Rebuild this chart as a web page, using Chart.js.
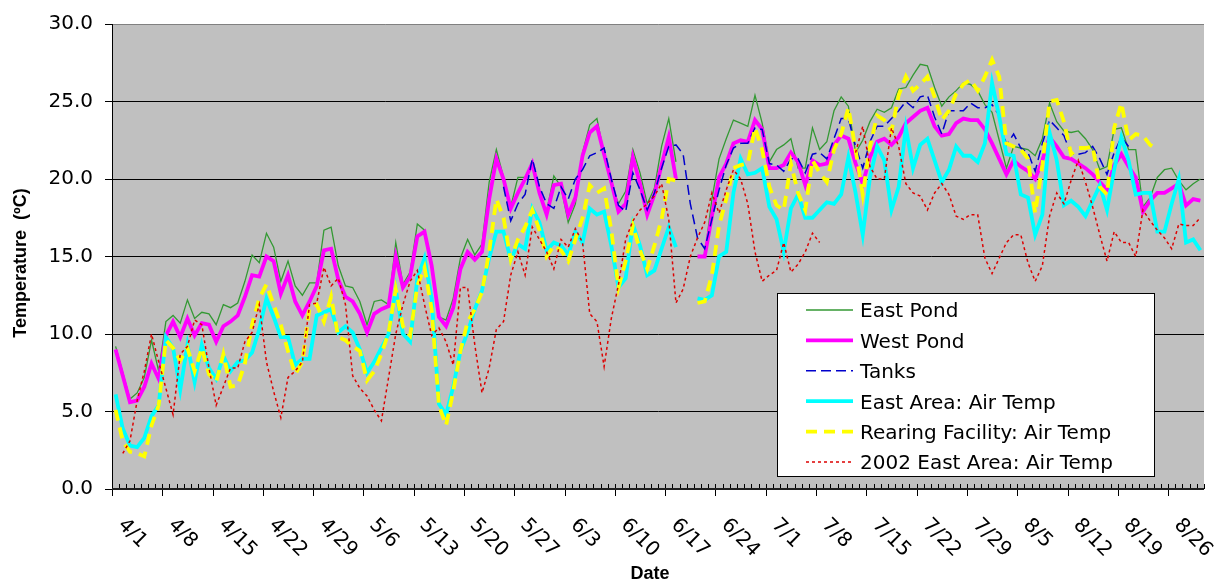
<!DOCTYPE html>
<html>
<head>
<meta charset="utf-8">
<script src="https://cdn.jsdelivr.net/npm/chart.js@4/dist/chart.umd.min.js"></script>
<style>
  html, body { margin: 0; padding: 0; background: #fff; }
  canvas { display: block; }
</style>
</head>
<body>
<canvas id="chart" width="1228" height="585"></canvas>
<script>
// daily categories 4/1 .. 8/30
const days = [];
for (let i = 0; i < 152; i++) {
  const dt = new Date(2003, 3, 1 + i);
  days.push((dt.getMonth() + 1) + '/' + dt.getDate());
}
const yTicks = [0, 5, 10, 15, 20, 25, 30];

const eastPond = [
  9.2, 7.5, 5.8, 6.2, 7.2, 9.6, 7.6,
  10.8, 11.2, 10.7, 12.2, 11.0, 11.4, 11.3,
  10.6, 11.9, 11.7, 12.0, 13.4, 15.1, 14.6,
  16.5, 15.6, 13.4, 14.7, 13.1, 12.5, 13.3,
  13.3, 16.7, 16.9, 14.4, 13.1, 13.0, 12.1,
  10.6, 12.1, 12.2, 11.9, 15.9, 13.2, 14.0,
  17.1, 16.7, 14.6, 11.1, 10.9, 12.3, 14.9,
  16.1, 15.1, 15.8, 19.8, 21.9, 20.1, 18.2,
  20.1, 20.1, 21.1, 19.0, 17.9, 20.2, 19.5,
  17.2, 18.4, 21.7, 23.5, 23.9, 21.6, 19.7,
  18.4, 19.2, 21.9, 20.4, 18.4, 19.4, 22.1,
  23.9, 21.1, null, null, 15.0, 15.0, 18.7,
  21.3, 22.6, 23.8, 23.6, 23.4, 25.4, 23.6,
  21.1, 21.9, 22.2, 22.6, 20.7, 20.7, 23.3,
  21.9, 22.4, 24.4, 25.3, 24.7, 21.7, 22.5,
  23.7, 24.5, 24.3, 24.6, 25.8, 25.9, 26.7,
  27.4, 27.3, 25.9, 24.7, 25.3, 25.7, 26.2,
  26.1, 25.7, 24.8, 24.3, 22.5, 20.7, 22.1,
  22.0, 21.9, 21.5, 22.6, 24.9, 23.7, 23.1,
  23.0, 23.1, 22.6, 21.9, 20.6, 20.8, 23.2,
  23.3, 21.9, 21.9, 18.2, 18.8, 20.1, 20.6,
  20.7, 19.9, 19.3, 19.7, 20.0
];

const westPond = [
  9.0, 7.3, 5.6, 5.7, 6.6, 8.1, 7.1,
  9.9, 10.8, 9.8, 11.0, 9.9, 10.7, 10.6,
  9.5, 10.5, 10.8, 11.2, 12.4, 13.8, 13.7,
  15.0, 14.7, 12.6, 13.8, 12.1, 11.2, 12.1,
  13.1, 15.4, 15.5, 13.5, 12.4, 12.1, 11.3,
  10.1, 11.3, 11.6, 11.8, 15.0, 13.0, 13.7,
  16.3, 16.6, 14.4, 11.1, 10.5, 11.7, 14.2,
  15.3, 14.8, 15.3, 18.7, 21.3, 20.0, 18.1,
  19.1, 20.0, 21.0, 19.1, 17.7, 19.6, 19.7,
  17.7, 18.8, 21.5, 23.0, 23.4, 21.6, 19.8,
  17.9, 18.4, 21.4, 19.7, 17.7, 19.0, 20.9,
  22.7, 20.0, null, null, 15.0, 15.0, 17.6,
  20.1, 21.0, 22.3, 22.5, 22.4, 23.8, 23.2,
  20.7, 20.7, 20.9, 21.7, 21.1, 19.6, 21.2,
  20.9, 21.0, 22.2, 22.8, 22.6, 21.0, 19.7,
  21.4, 22.4, 22.6, 22.2, 22.7, 23.6, 24.0,
  24.4, 24.6, 23.4, 22.8, 22.9, 23.6, 23.9,
  23.8, 23.8, 23.2, 22.3, 21.3, 20.3, 21.2,
  20.8, 20.5, 20.0, 21.2, 22.7, 22.1, 21.4,
  21.3, 21.0, 20.7, 20.3, 19.8, 19.3, 20.9,
  21.6, 20.8, 20.1, 17.9, 18.6, 19.1, 19.1,
  19.4, 19.7, 18.3, 18.7, 18.6
];

const tanks = [
  null, null, null, null, null, null, null,
  null, null, null, null, null, null, null,
  null, null, null, null, null, null, null,
  null, null, null, null, null, null, null,
  null, null, null, null, null, null, null,
  null, null, null, null, null, null, null,
  null, null, null, null, null, null, null,
  null, null, null, null, null, 19.5, 17.3,
  18.4, 19.0, 21.3, 19.5, 18.4, 18.1, 19.5,
  18.7, 20.0, 20.6, 21.5, 21.7, 22.0, 20.0,
  18.3, 17.9, 20.4, 19.3, 18.0, 19.1, 20.7,
  22.1, 22.2, 21.6, 18.4, 16.2, 15.5, 17.4,
  19.3, 20.9, 22.0, 22.3, 22.3, 23.3, 23.2,
  21.0, 20.9, 20.5, 21.3, 21.3, 20.4, 21.6,
  21.7, 21.3, 22.6, 23.9, 23.9, 22.1, 20.7,
  22.4, 23.4, 23.4, 23.9, 24.4, 25.0, 24.6,
  25.3, 25.4, 24.0, 22.9, 24.4, 24.4, 24.4,
  24.9, 24.6, 24.6, 24.8, 24.1, 22.2, 22.9,
  22.0, 21.7, 20.5, 22.3, 23.8, 23.3, 22.8,
  21.6, 21.6, 21.7, 22.1, 21.3, 20.3, 21.7,
  22.7, 22.1, null, null, null, null, null,
  null, null, null, null, null
];

const eastAreaAir = [
  6.1, 3.9, 2.8, 2.7, 3.3, 4.7, 5.4,
  9.8, 9.1, 6.4, 9.3, 6.9, 9.3, 7.8,
  7.1, 8.6, 7.6, 8.2, 8.3, 8.8, 10.3,
  12.3, 11.1, 9.8, 9.8, 8.0, 8.4, 8.4,
  11.2, 11.4, 11.6, 10.1, 10.5, 10.1, 9.0,
  7.5, 8.2, 9.1, 10.0, 12.9, 10.0, 9.5,
  13.6, 14.9, 12.3, 5.5, 4.8, 6.6, 8.9,
  10.1, 11.6, 12.8, 14.9, 16.6, 16.6, 14.8,
  15.8, 15.5, 18.1, 17.2, 15.4, 15.9, 15.7,
  15.1, 16.6, 15.9, 18.1, 17.7, 17.9, 15.7,
  13.0, 13.6, 17.1, 15.7, 13.8, 14.1, 15.5,
  16.9, 15.6, null, null, 12.3, 12.2, 12.5,
  15.0, 15.3, 19.1, 21.3, 20.3, 20.4, 20.7,
  18.2, 17.4, 15.3, 18.1, 19.0, 17.5, 17.5,
  18.0, 18.5, 18.4, 19.0, 21.4, 19.1, 16.4,
  20.1, 22.1, 21.2, 18.0, 19.5, 23.3, 20.7,
  22.2, 22.6, 21.2, 19.8, 20.6, 22.1, 21.5,
  21.5, 21.1, 22.3, 26.2, 24.0, 21.6, 21.5,
  19.0, 18.8, 16.4, 17.7, 23.0, 21.2, 18.3,
  18.6, 18.2, 17.6, 18.6, 19.6, 18.0, 20.6,
  22.7, 21.2, 19.0, 19.1, 19.1, 16.6, 16.6,
  18.4, 20.0, 15.9, 16.1, 15.4
];

const rearingAir = [
  5.1, 3.1, 2.4, 2.3, 2.1, 4.1, 5.4,
  9.6, 9.1, 8.3, 9.1, 7.6, 9.1, 7.4,
  6.9, 8.7, 6.6, 6.7, 8.1, 10.6, 12.3,
  13.2, 11.9, 10.6, 8.9, 7.4, 8.2, 11.7,
  11.9, 10.8, 12.4, 9.8, 9.6, 9.2, 8.9,
  7.0, 7.6, 8.7, 10.1, 12.9, 10.5, 9.9,
  13.1, 14.3, 11.6, 5.4, 4.1, 6.3, 8.9,
  10.8, 11.6, 12.7, 15.3, 18.7, 17.5, 14.8,
  16.1, 16.9, 18.0, 16.7, 15.0, 15.7, 15.4,
  14.7, 16.1, 17.5, 19.6, 19.1, 19.4, 16.7,
  13.0, 14.7, 17.0, 15.4, 14.2, 15.7, 17.4,
  20.0, 19.9, null, null, 12.0, 12.1, 13.8,
  17.0, 18.7, 20.7, 20.9, 21.0, 23.3, 21.9,
  19.5, 18.3, 18.0, 21.0, 19.1, 18.0, 21.2,
  20.4, 19.8, 21.9, 22.9, 24.6, 21.9, 19.0,
  22.1, 24.1, 23.8, 23.1, 25.4, 26.6, 25.7,
  26.1, 26.6, 25.3, 23.8, 24.4, 25.5, 26.1,
  26.4, 25.7, 26.6, 27.7, 26.6, 22.3, 22.1,
  21.9, 21.3, 17.8, 20.9, 25.0, 25.1, 23.7,
  21.6, 22.0, 22.0, 22.1, 19.5, 19.0, 23.3,
  24.9, 22.5, 22.9, 22.8, 22.2, 21.9, null,
  null, null, null, null, null
];

const eastArea2002 = [
  null, 2.3, 3.1, 5.7, 7.6, 10.0, 8.2,
  6.5, 4.8, 8.7, 9.2, 10.9, 10.6, 7.8,
  5.4, 6.6, 7.8, 7.8, 9.5, 10.1, 11.9,
  8.2, 6.3, 4.6, 7.2, 7.6, 8.2, 11.9,
  12.0, 14.3, 13.1, 13.6, 11.9, 7.3, 6.5,
  6.0, 5.1, 4.4, 7.2, 10.0, 11.9, 13.4,
  14.1, 11.9, 9.9, 10.4, 9.5, 8.0, 13.0,
  13.0, 9.3, 6.2, 7.8, 10.3, 10.8, 13.8,
  15.3, 13.8, 16.9, 16.1, 15.3, 14.2, 16.1,
  15.6, 16.8, 15.9, 11.3, 10.8, 7.9, 11.0,
  13.2, 16.1, 17.3, 18.0, 18.4, 18.9, 19.7,
  17.4, 12.0, 12.9, 15.0, 16.2, 17.2, 19.1,
  17.8, 19.3, 20.6, 20.0, 18.4, 15.3, 13.4,
  13.8, 14.1, 15.9, 14.0, 14.5, 15.3, 16.5,
  15.9, null, null, null, null, 21.7, 23.4,
  20.8, 20.0, 20.0, 23.3, 22.1, 19.7, 19.1,
  18.9, 18.0, 19.1, 19.7, 19.0, 17.6, 17.4,
  17.7, 17.7, 14.9, 13.9, 14.9, 15.9, 16.4,
  16.4, 14.6, 13.4, 14.4, 17.6, 19.1, 18.4,
  19.9, 21.2, 19.8, 18.2, 16.4, 14.7, 16.6,
  15.9, 15.9, 15.0, 18.0, 17.3, 16.7, 16.2,
  15.5, 17.1, 17.0, 17.0, 17.5
];

const seriesNames = ['East Pond', 'West Pond', 'Tanks', 'East Area: Air Temp',
  'Rearing Facility: Air Temp', '2002 East Area: Air Temp'];

const datasets = [
  { label: seriesNames[0], data: eastPond, borderColor: '#339933', borderWidth: 1.3 },
  { label: seriesNames[1], data: westPond, borderColor: '#ff00ff', borderWidth: 3.8 },
  { label: seriesNames[2], data: tanks, borderColor: '#0000cc', borderWidth: 1.5, borderDash: [10, 5] },
  { label: seriesNames[3], data: eastAreaAir, borderColor: '#00ffff', borderWidth: 3.8 },
  { label: seriesNames[4], data: rearingAir, borderColor: '#ffff00', borderWidth: 3.8, borderDash: [11, 7] },
  { label: seriesNames[5], data: eastArea2002, borderColor: '#dd0000', borderWidth: 1.5, borderDash: [3, 3] }
].map((d, i) => Object.assign(d, { order: 10 - i, pointRadius: 0, fill: false, tension: 0 }));

// grey plot area
const plotBg = {
  id: 'plotBg',
  beforeDraw(chart) {
    const { ctx, chartArea: a } = chart;
    ctx.save();
    ctx.fillStyle = '#c0c0c0';
    ctx.fillRect(a.left, a.top, a.right - a.left, a.bottom - a.top);
    ctx.restore();
  }
};

// x axis: daily minor ticks, weekly major ticks, slanted labels, axis titles
const dateAxis = {
  id: 'dateAxis',
  afterDraw(chart) {
    const { ctx, chartArea: a } = chart;
    const xs = chart.scales.x;
    const w = xs.getPixelForValue(1) - xs.getPixelForValue(0);
    const x0 = xs.getPixelForValue(0) - w / 2;
    ctx.save();
    ctx.strokeStyle = '#000';
    ctx.lineWidth = 1;
    for (let b = 0; b <= days.length; b++) {
      const x = Math.round(x0 + b * w) + 0.5;
      ctx.beginPath();
      ctx.moveTo(x, a.bottom - 5);
      ctx.lineTo(x, a.bottom + (b % 7 === 0 ? 7 : 0));
      ctx.stroke();
    }
    ctx.strokeStyle = '#202020';
    ctx.lineWidth = 2;
    ctx.beginPath();
    ctx.moveTo(a.left, a.bottom);
    ctx.lineTo(a.right, a.bottom);
    ctx.stroke();

    ctx.fillStyle = '#000';
    ctx.font = '20px "DejaVu Sans"';
    ctx.textAlign = 'left';
    ctx.textBaseline = 'middle';
    days.forEach((lab, i) => {
      if (i % 7 !== 0) return;
      ctx.save();
      ctx.translate(x0 + i * w + 9, a.bottom + 33);
      ctx.rotate(Math.PI / 4);
      ctx.fillText(lab, 0, 0);
      ctx.restore();
    });

    // axis titles
    ctx.font = 'bold 18px "Liberation Sans"';
    ctx.textAlign = 'center';
    ctx.textBaseline = 'middle';
    ctx.fillText('Date', 650, 574);
    ctx.save();
    ctx.translate(21, 263);
    ctx.rotate(-Math.PI / 2);
    ctx.fillText('Temperature  (ºC)', 0, 0);
    ctx.restore();
    ctx.restore();
  }
};

// legend box inside the plot
const boxLegend = {
  id: 'boxLegend',
  afterDraw(chart) {
    const { ctx } = chart;
    const bx = 777, by = 293, bw = 377, bh = 183;
    ctx.save();
    ctx.fillStyle = '#fff';
    ctx.fillRect(bx, by, bw, bh);
    ctx.strokeStyle = '#000';
    ctx.lineWidth = 1;
    ctx.strokeRect(bx + 0.5, by + 0.5, bw, bh);
    ctx.font = '20px "DejaVu Sans"';
    ctx.textAlign = 'left';
    ctx.textBaseline = 'alphabetic';
    chart.data.datasets.forEach((ds, i) => {
      const y = 310 + i * 30.4;
      ctx.save();
      ctx.strokeStyle = ds.borderColor;
      ctx.lineWidth = ds.borderWidth;
      ctx.setLineDash(ds.borderDash || []);
      ctx.beginPath();
      ctx.moveTo(806, y);
      ctx.lineTo(853, y);
      ctx.stroke();
      ctx.restore();
      ctx.fillStyle = '#000';
      ctx.fillText(ds.label, 860, y + 7.3);
    });
    ctx.restore();
  }
};

new Chart(document.getElementById('chart'), {
  type: 'line',
  data: { labels: days, datasets },
  options: {
    responsive: false,
    animation: false,
    layout: { padding: { top: 19, right: 24, left: 0, bottom: 0 } },
    plugins: { legend: { display: false }, tooltip: { enabled: false } },
    scales: {
      x: {
        type: 'category',
        offset: true,
        grid: { display: false },
        border: { display: false },
        ticks: { display: false },
        afterFit(scale) { scale.height = 96; }
      },
      y: {
        min: yTicks[0],
        max: yTicks[yTicks.length - 1],
        afterBuildTicks(scale) { scale.ticks = yTicks.map(v => ({ value: v })); },
        afterFit(scale) { scale.width = 112; },
        ticks: {
          color: '#000',
          padding: 12,
          font: { family: 'DejaVu Sans', size: 20 },
          callback: v => v.toFixed(1)
        },
        grid: {
          color: c => (c.tick && c.tick.value === 30 ? '#808080' : '#000'),
          tickColor: '#000',
          tickLength: 7,
          lineWidth: 1
        },
        border: { color: '#000', width: 1 }
      }
    }
  },
  plugins: [plotBg, dateAxis, boxLegend]
});
</script>
</body>
</html>
